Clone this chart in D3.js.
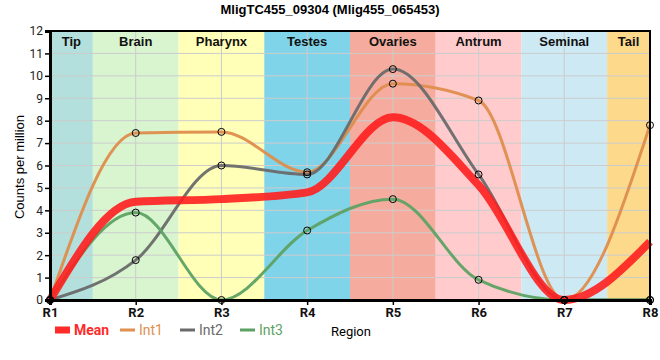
<!DOCTYPE html>
<html>
<head>
<meta charset="utf-8">
<script src="https://cdn.jsdelivr.net/npm/d3@7"></script>
<style>
  body { margin: 0; background: #fff; }
  text { font-family: "Liberation Sans", Arial, sans-serif; }
  .tick text { font-family: Roboto, sans-serif; }
</style>
</head>
<body>
<div id="chart"></div>
<script>
var regions = ["R1", "R2", "R3", "R4", "R5", "R6", "R7", "R8"];
var bandNames = ["Tip", "Brain", "Pharynx", "Testes", "Ovaries", "Antrum", "Seminal", "Tail"];
var bandColors = ["#b3e0dc", "#d8f5cf", "#ffffb8", "#80d4ea", "#f5ac9e", "#ffcbcc", "#cde9f4", "#fdd98b"];
var yTicks = [0, 1, 2, 3, 4, 5, 6, 7, 8, 9, 10, 11, 12];

var mean = [0, 4.38, 4.5, 4.8, 8.15, 5.13, 0, 2.6];
var int1 = [0, 7.45, 7.5, 5.7, 9.65, 8.9, 0, 7.8];
var int2 = [0, 1.78, 6.0, 5.6, 10.3, 5.6, 0, 0];
var int3 = [0, 3.9, 0, 3.1, 4.5, 0.9, 0, 0];

var series = [
  {name: "Int1", values: int1, color: "#de8d4c", width: 3, dots: true},
  {name: "Int2", values: int2, color: "#6a6a6a", width: 3, dots: true},
  {name: "Int3", values: int3, color: "#5da264", width: 3, dots: true},
  {name: "Mean", values: mean, color: "#ff1f1f", width: 8, dots: false}
];

var W = 660, H = 360,
    pLeft = 50, pRight = 650, pTop = 31, pBottom = 300;

var svg = d3.select("#chart").append("svg")
    .attr("width", W)
    .attr("height", H);

var x = d3.scalePoint().domain(regions).range([pLeft, pRight]);
var y = d3.scaleLinear().domain([0, 12]).range([pBottom, pTop]);
var step = x.step();

function bandL(i) { return Math.max(pLeft, x(regions[i]) - step / 2); }
function bandR(i) { return Math.min(pRight, x(regions[i]) + step / 2); }

// coloured region bands
svg.selectAll("rect.band")
  .data(bandNames)
  .enter().append("rect")
    .attr("class", "band")
    .attr("x", function(d, i) { return bandL(i); })
    .attr("y", pTop)
    .attr("width", function(d, i) { return bandR(i) - bandL(i); })
    .attr("height", pBottom - pTop)
    .style("fill", function(d, i) { return bandColors[i]; });

// grid
svg.append("g").selectAll("line")
  .data(yTicks)
  .enter().append("line")
    .attr("x1", pLeft).attr("x2", pRight)
    .attr("y1", function(d) { return y(d); })
    .attr("y2", function(d) { return y(d); })
    .style("stroke", "#cccccc").style("stroke-width", 1);
svg.append("g").selectAll("line")
  .data(regions)
  .enter().append("line")
    .attr("x1", function(d) { return x(d); })
    .attr("x2", function(d) { return x(d); })
    .attr("y1", pTop).attr("y2", pBottom)
    .style("stroke", "#cccccc").style("stroke-width", 1);

// band labels
svg.selectAll("text.bandlabel")
  .data(bandNames)
  .enter().append("text")
    .attr("class", "bandlabel")
    .attr("x", function(d, i) { return (bandL(i) + bandR(i)) / 2; })
    .attr("y", 46)
    .attr("text-anchor", "middle")
    .style("font-size", "13px")
    .style("font-weight", "bold")
    .style("fill", "#111")
    .text(function(d) { return d; });

// lines
var line = d3.line()
    .x(function(d, i) { return x(regions[i]); })
    .y(function(d) { return y(d); })
    .curve(d3.curveMonotoneX);

svg.append("g").selectAll("path")
  .data(series)
  .enter().append("path")
    .attr("d", function(d) { return line(d.values); })
    .style("fill", "none")
    .style("stroke", function(d) { return d.color; })
    .style("stroke-width", function(d) { return d.width; })
    .style("stroke-opacity", function(d) { return d.dots ? 0.95 : 0.9; });

// dots
series.filter(function(s) { return s.dots; }).forEach(function(s) {
  svg.append("g").selectAll("circle")
    .data(s.values)
    .enter().append("circle")
      .attr("cx", function(d, i) { return x(regions[i]); })
      .attr("cy", function(d) { return y(d); })
      .attr("r", 3.5)
      .style("fill", "none")
      .style("stroke", "#000")
      .style("stroke-width", 1);
});

// frame
svg.append("rect")
  .attr("x", pLeft).attr("y", pTop)
  .attr("width", pRight - pLeft).attr("height", pBottom - pTop)
  .style("fill", "none").style("stroke", "#000").style("stroke-width", 2);

// axes
var yAxis = svg.append("g")
  .attr("transform", "translate(" + pLeft + ",0)")
  .call(d3.axisLeft(y).tickValues(yTicks).tickSize(5).tickPadding(2));
yAxis.select(".domain").style("stroke", "#000").style("stroke-width", 3);
yAxis.selectAll(".tick line").style("stroke", "#000").style("stroke-width", 1.5);
yAxis.selectAll(".tick text").style("font-size", "12px").style("fill", "#222");

var xAxis = svg.append("g")
  .attr("transform", "translate(0," + pBottom + ")")
  .call(d3.axisBottom(x).tickSize(5).tickPadding(3));
xAxis.select(".domain").style("stroke", "#000").style("stroke-width", 3);
xAxis.selectAll(".tick line").style("stroke", "#000").style("stroke-width", 1.5);
xAxis.selectAll(".tick text").style("font-size", "13px").style("font-weight", "bold").style("fill", "#111");

// title
svg.append("text")
  .attr("x", 330).attr("y", 14)
  .attr("text-anchor", "middle")
  .style("font-size", "13px")
  .style("font-weight", "bold")
  .text("MligTC455_09304 (Mlig455_065453)");

// y label
svg.append("text")
  .attr("transform", "translate(24," + 167 + ") rotate(-90)")
  .attr("text-anchor", "middle")
  .style("font-size", "13px")
  .text("Counts per million");

// legend
var legend = [
  {name: "Mean", color: "#ff2a2a", x: 55, w: 15, h: 7},
  {name: "Int1", color: "#e0904f", x: 120, w: 15, h: 3},
  {name: "Int2", color: "#6a6a6a", x: 180, w: 15, h: 3},
  {name: "Int3", color: "#5da264", x: 240, w: 15, h: 3}
];
var lg = svg.append("g").selectAll("g")
  .data(legend)
  .enter().append("g");
lg.append("rect")
  .attr("x", function(d) { return d.x; })
  .attr("y", function(d) { return 330 - d.h / 2; })
  .attr("width", function(d) { return d.w; })
  .attr("height", function(d) { return d.h; })
  .style("fill", function(d) { return d.color; });
lg.append("text")
  .attr("x", function(d) { return d.x + 19; })
  .attr("y", 335)
  .style("font-family", "Roboto, sans-serif")
  .style("font-size", "14px")
  .style("font-weight", function(d) { return d.name == "Mean" ? "bold" : "normal"; })
  .style("fill", function(d) { return d.color; })
  .text(function(d) { return d.name; });

svg.append("text")
  .attr("x", 331).attr("y", 336)
  .style("font-family", "Roboto, sans-serif")
  .style("font-size", "13px")
  .text("Region");
</script>
</body>
</html>
